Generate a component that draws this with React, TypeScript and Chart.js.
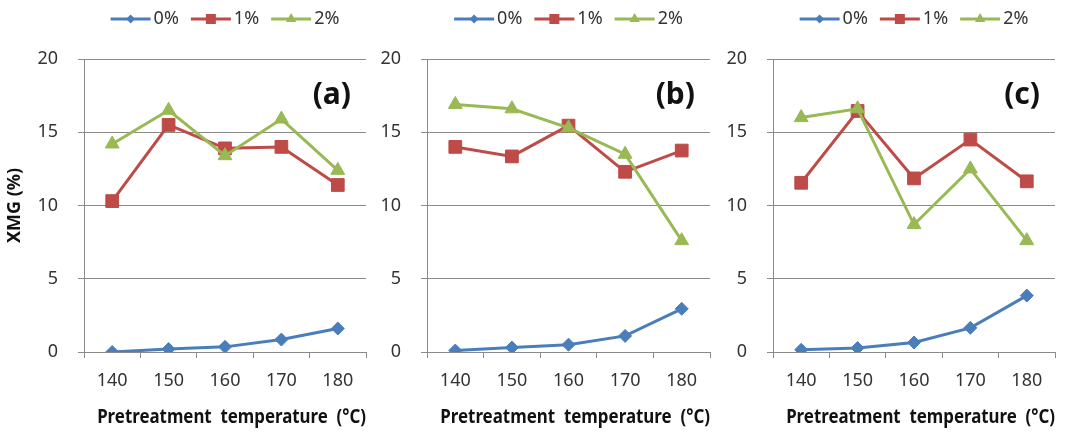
import React, { useEffect, useRef } from 'react';
import { Chart, registerables } from 'chart.js';

Chart.register(...registerables);
Chart.defaults.font.family = '"Noto Sans", sans-serif';

// ---- data ----
const temperatures = ['140', '150', '160', '170', '180'];
const seriesNames = ['0%', '1%', '2%'];
const panelLabels = ['(a)', '(b)', '(c)'];
const yTickValues = [0, 5, 10, 15, 20];
const yTitle = 'XMG (%)';
const xTitle = 'Pretreatment  temperature  (°C)';

const a0 = [0.0, 0.2, 0.35, 0.85, 1.6];
const a1 = [10.3, 15.5, 13.9, 14.0, 11.4];
const a2 = [14.2, 16.5, 13.4, 15.9, 12.4];

const b0 = [0.1, 0.3, 0.5, 1.1, 2.95];
const b1 = [14.0, 13.35, 15.45, 12.3, 13.75];
const b2 = [16.9, 16.6, 15.3, 13.5, 7.6];

const c0 = [0.15, 0.27, 0.65, 1.65, 3.85];
const c1 = [11.55, 16.45, 11.85, 14.5, 11.65];
const c2 = [16.0, 16.6, 8.7, 12.5, 7.6];

// ---- styles ----
const colors = ['#4A7EBB', '#BE4B48', '#98B954'];
const pointStyles = ['rectRot', 'rect', 'triangle'];
const pointRadii = [6.5, 9, 8];
const gridColor = '#8A8A8A';
const textColor = '#333333';

const panels = [
  { data: [a0, a1, a2], label: panelLabels[0], left: 0, width: 378, yw: 84, padRight: 12, yTitle: true },
  { data: [b0, b1, b2], label: panelLabels[1], left: 378, width: 344, yw: 49, padRight: 12, yTitle: false },
  { data: [c0, c1, c2], label: panelLabels[2], left: 722, width: 347, yw: 51, padRight: 14, yTitle: false },
];

function drawLegendMarker(ctx: CanvasRenderingContext2D, i: number, x: number, y: number) {
  ctx.beginPath();
  if (i === 0) {
    const r = 4.5;
    ctx.moveTo(x, y - r);
    ctx.lineTo(x + r, y);
    ctx.lineTo(x, y + r);
    ctx.lineTo(x - r, y);
  } else if (i === 1) {
    const s = 5;
    ctx.rect(x - s, y - s, 2 * s, 2 * s);
  } else {
    const r = 6;
    ctx.moveTo(x, y - r);
    ctx.lineTo(x + r * 0.87, y + r * 0.5);
    ctx.lineTo(x - r * 0.87, y + r * 0.5);
  }
  ctx.closePath();
  ctx.fill();
}

const decorPlugin = {
  id: 'decor',
  afterDraw(chart: any, _args: any, opts: any) {
    const { ctx, chartArea } = chart;
    ctx.save();
    // panel label
    ctx.font = 'bold 30px "Noto Sans"';
    ctx.fillStyle = '#111111';
    ctx.textAlign = 'right';
    ctx.textBaseline = 'middle';
    ctx.fillText(opts.label, chartArea.right - 15, chartArea.top + 36);

    // legend
    ctx.font = '18px "Noto Sans"';
    ctx.textAlign = 'left';
    const lineLen = 40;
    const gapText = 3;
    const gapItem = 12;
    const widths = seriesNames.map((n) => ctx.measureText(n).width);
    const total =
      widths.reduce((s, w) => s + lineLen + gapText + w, 0) + gapItem * (seriesNames.length - 1);
    let x = (chartArea.left + chartArea.right) / 2 - total / 2;
    const y = 19;
    seriesNames.forEach((name, i) => {
      ctx.strokeStyle = colors[i];
      ctx.fillStyle = colors[i];
      ctx.lineWidth = 3;
      ctx.beginPath();
      ctx.moveTo(x, y);
      ctx.lineTo(x + lineLen, y);
      ctx.stroke();
      drawLegendMarker(ctx, i, x + lineLen / 2, y);
      ctx.fillStyle = textColor;
      ctx.fillText(name, x + lineLen + gapText, y);
      x += lineLen + gapText + widths[i] + gapItem;
    });
    ctx.restore();
  },
};

function Panel({ cfg }: { cfg: any }) {
  const ref = useRef<HTMLCanvasElement>(null);
  useEffect(() => {
    const chart = new Chart(ref.current as HTMLCanvasElement, {
      type: 'line',
      data: {
        labels: temperatures,
        datasets: cfg.data.map((vals: number[], i: number) => ({
          label: seriesNames[i],
          data: vals,
          borderColor: colors[i],
          backgroundColor: colors[i],
          borderWidth: 3,
          tension: 0,
          pointStyle: pointStyles[i],
          pointRadius: pointRadii[i],
          pointBorderWidth: 1,
          pointBorderColor: colors[i],
          pointBackgroundColor: colors[i],
          order: 2 - i,
        })),
      },
      options: {
        animation: false,
        responsive: false,
        layout: { padding: { top: 59, right: cfg.padRight, bottom: 0, left: 0 } },
        plugins: {
          legend: { display: false },
          tooltip: { enabled: false },
          decor: { label: cfg.label },
        } as any,
        scales: {
          x: {
            type: 'category',
            offset: true,
            grid: {
              display: true,
              drawOnChartArea: false,
              drawTicks: true,
              tickLength: 6,
              offset: true,
              color: gridColor,
            },
            border: { display: true, color: gridColor },
            ticks: { color: textColor, font: { size: 18 }, padding: 12, maxRotation: 0 },
            title: {
              display: true,
              text: '   ' + xTitle,
              color: '#111111',
              font: { size: 19, weight: 'bold' },
              padding: { top: 0, bottom: 7 },
            },
            afterFit: (s: any) => {
              s.height = 84;
            },
          },
          y: {
            min: 0,
            max: 20,
            afterBuildTicks: (s: any) => {
              s.ticks = yTickValues.map((v) => ({ value: v }));
            },
            grid: { color: gridColor, tickLength: 6, lineWidth: 1 },
            border: { display: true, color: gridColor },
            ticks: { color: textColor, font: { size: 18 }, padding: 20 },
            title: {
              display: cfg.yTitle,
              text: yTitle,
              color: '#111111',
              font: { size: 18, weight: 'bold' },
              padding: { top: 4, bottom: 0 },
            },
            afterFit: (s: any) => {
              s.width = cfg.yw;
            },
          },
        },
      },
      plugins: [decorPlugin],
    } as any);
    return () => chart.destroy();
  }, []);
  return (
    <canvas
      ref={ref}
      width={cfg.width}
      height={436}
      style={{ position: 'absolute', left: cfg.left, top: 0, width: cfg.width, height: 436 }}
    />
  );
}

export default function App() {
  return (
    <div
      style={{
        position: 'fixed',
        left: 0,
        top: 0,
        width: 1069,
        height: 436,
        background: '#ffffff',
        overflow: 'hidden',
      }}
    >
      {panels.map((p, i) => (
        <Panel key={i} cfg={p} />
      ))}
    </div>
  );
}
